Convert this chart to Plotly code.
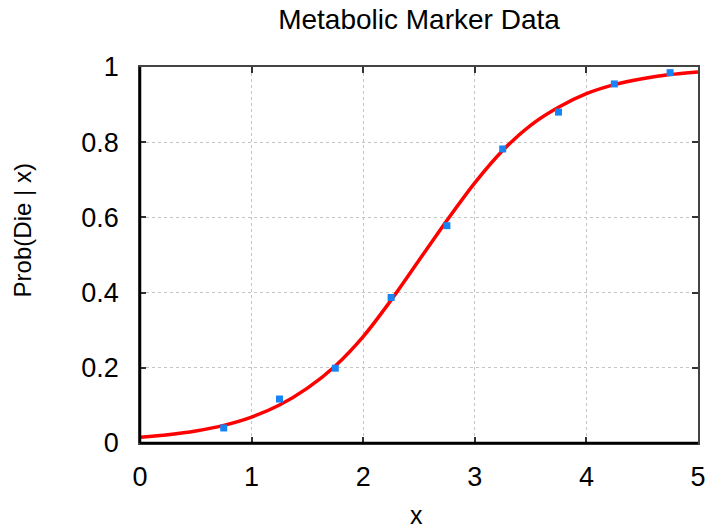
import plotly.graph_objects as go

# Observed data points
obs_x = [0.75, 1.25, 1.75, 2.25, 2.75, 3.25, 3.75, 4.25, 4.75]
obs_y = [0.040, 0.117, 0.199, 0.387, 0.578, 0.782, 0.880, 0.955, 0.985]

# Fitted curve
fit_x = [0.0, 0.25, 0.5, 0.75, 1.0, 1.25, 1.5, 1.75, 2.0, 2.25, 2.5,
         2.75, 3.0, 3.25, 3.5, 3.75, 4.0, 4.25, 4.5, 4.75, 5.0]
fit_y = [0.015, 0.022, 0.032, 0.047, 0.069, 0.101, 0.146, 0.205, 0.283, 0.380, 0.486,
         0.592, 0.692, 0.778, 0.845, 0.893, 0.929, 0.953, 0.969, 0.980, 0.987]

x_ticks = [0, 1, 2, 3, 4, 5]
y_ticks = [0, 0.2, 0.4, 0.6, 0.8, 1]
y_tick_text = ["0", "0.2", "0.4", "0.6", "0.8", "1"]

FONT = "Liberation Sans, Arial, sans-serif"

W, H = 710, 531
L, R, T, B = 140, 11.5, 67, 87.5
PW, PH = W - L - R, H - T - B

fig = go.Figure()
fig.add_trace(go.Scatter(x=fit_x, y=fit_y, mode="lines",
                         line=dict(color="#ff0000", width=3.5, shape="spline", smoothing=0.8),
                         showlegend=False, hoverinfo="skip"))
fig.add_trace(go.Scatter(x=obs_x, y=obs_y, mode="markers",
                         marker=dict(symbol="square", size=7, color="#1784f5",
                                     line=dict(width=0)),
                         showlegend=False))

fig.update_layout(
    width=W, height=H,
    margin=dict(l=L, r=R, t=T, b=B),
    paper_bgcolor="white", plot_bgcolor="white",
    font=dict(family=FONT, color="black", size=24),
    title=dict(text="Metabolic Marker Data", x=0.5, xref="paper", xanchor="center",
               y=1 - 19 / H, yref="container", yanchor="middle",
               font=dict(size=28, family=FONT, color="black")),
)
common = dict(
    ticks="inside", ticklen=6, tickwidth=1.5, tickcolor="#333333",
    showline=True, linecolor="#444444", linewidth=1.5, mirror="ticks",
    showgrid=True, gridcolor="#c4c4c4", griddash="dot", gridwidth=1,
    zeroline=False, tickfont=dict(size=27, family=FONT), automargin=False,
)
fig.update_xaxes(range=[0, 5], tickvals=x_ticks, ticktext=[str(v) for v in x_ticks],
                 ticklabelstandoff=9, **common)
fig.update_yaxes(range=[0, 1], tickvals=y_ticks, ticktext=y_tick_text,
                 ticklabelstandoff=14, **common)

# Heavier black left and bottom borders, as in the reference
fig.add_shape(type="line", xref="paper", yref="paper", x0=0, x1=0, y0=0, y1=1,
              line=dict(color="black", width=2.5), layer="above")
fig.add_shape(type="line", xref="paper", yref="paper", x0=0, x1=1, y0=0, y1=0,
              line=dict(color="black", width=2.5), layer="above")

# Axis titles placed as in the reference
fig.add_annotation(text="Prob(Die | x)", textangle=-90, showarrow=False,
                   xref="paper", yref="paper",
                   x=(22.5 - L) / PW, y=(H - B - 231) / PH,
                   xanchor="center", yanchor="middle",
                   font=dict(size=24, family=FONT, color="black"))
fig.add_annotation(text="x", showarrow=False,
                   xref="paper", yref="paper",
                   x=(417 - L) / PW, y=(H - B - 516) / PH,
                   xanchor="center", yanchor="middle",
                   font=dict(size=25, family=FONT, color="black"))

fig.write_html("out.html")
